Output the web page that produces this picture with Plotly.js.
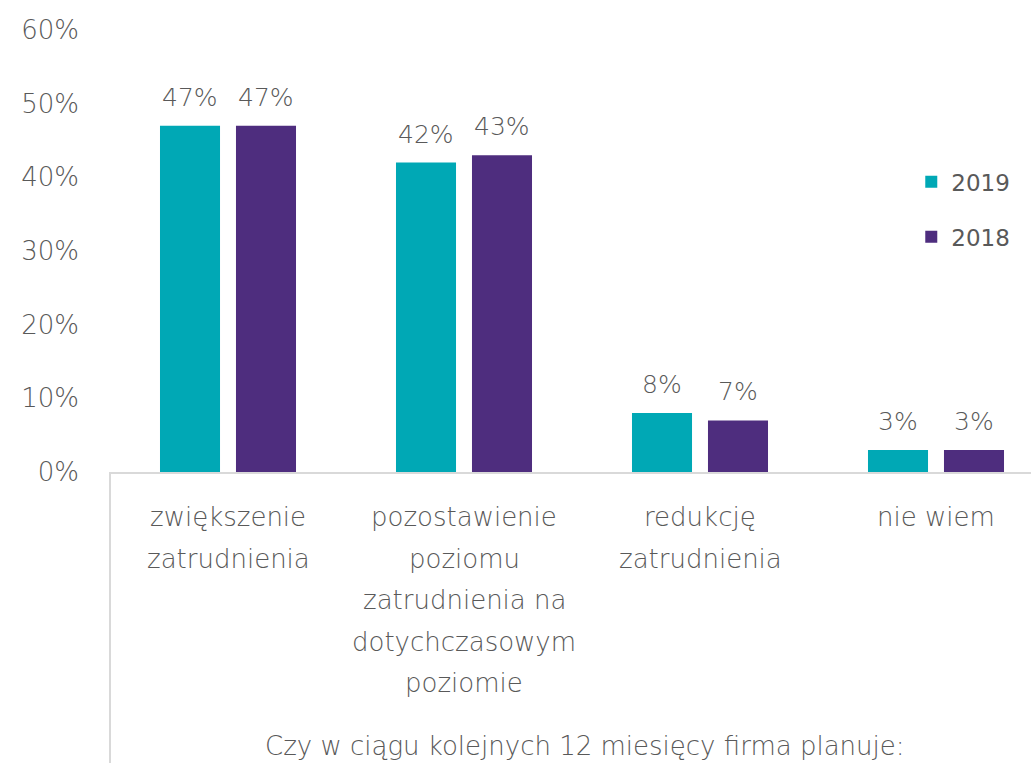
<!DOCTYPE html>
<html>
<head>
<meta charset="utf-8">
<script src="https://cdn.plot.ly/plotly-3.0.1.min.js"></script>
<style>
  html,body{margin:0;padding:0;background:#fff;}
  #chart{width:1031px;height:763px;}
</style>
</head>
<body>
<div id="chart"></div>
<script>
// Plan zatrudnienia 2019 vs 2018
const categories = ['zwiększenie zatrudnienia', 'pozostawienie poziomu zatrudnienia na dotychczasowym poziomie', 'redukcję zatrudnienia', 'nie wiem'];
const categoryLines = [
  ['zwiększenie', 'zatrudnienia'],
  ['pozostawienie', 'poziomu', 'zatrudnienia na', 'dotychczasowym', 'poziomie'],
  ['redukcję', 'zatrudnienia'],
  ['nie wiem']
];
const values2019 = [47, 42, 8, 3];
const values2018 = [47, 43, 7, 3];
const seriesNames = ['2019', '2018'];
const yTicks = [0, 10, 20, 30, 40, 50, 60];
const axisTitle = 'Czy w ciągu kolejnych 12 miesięcy firma planuje:';

(function(){
  const FONT = '"DejaVu Sans", sans-serif';
  const GRAY = '#595959';
  const TEAL = '#00A8B5';
  const PURPLE = '#4E2D7E';
  const W = 200;

  const H = 763, T = 30, B = 291, L = 110;
  const plotH = H - T - B;
  const pxToPaperY = py => (H - B - py) / plotH;

  const xIdx = categories.map((_, i) => i);

  const traces = [
    { type:'bar', name:seriesNames[0], x:xIdx, y:values2019, marker:{color:TEAL}, legendgroup:'a', hoverinfo:'skip' },
    { type:'bar', name:seriesNames[1], x:xIdx, y:values2018, marker:{color:PURPLE}, legendgroup:'b', hoverinfo:'skip' }
  ];

  const annotations = [];
  // value labels above bars
  [values2019, values2018].forEach((vals, s) => {
    vals.forEach((v, i) => {
      annotations.push({ x:i, y:v, xref:'x', yref:'y', text:v + '%', showarrow:false,
        xanchor:'center', yanchor:'bottom', xshift: s === 0 ? -38 : 38, yshift:12,
        font:{family:FONT, size:25, weight:W, color:GRAY} });
    });
  });
  // category labels, one annotation per line
  categoryLines.forEach((lines, i) => {
    lines.forEach((ln, j) => {
      annotations.push({ x:i, y:pxToPaperY(517 + j*41.5), xref:'x', yref:'paper', text:ln, showarrow:false,
        xanchor:'center', yanchor:'middle', font:{family:FONT, size:26, weight:W, color:GRAY} });
    });
  });
  annotations.push({ x:(585 - L) / (1031 - L), y:pxToPaperY(746), xref:'paper', yref:'paper', text:axisTitle,
    showarrow:false, xanchor:'center', yanchor:'middle', font:{family:FONT, size:26, weight:W, color:GRAY} });

  const layout = {
    width:1031, height:763,
    margin:{l:L, r:0, t:T, b:B},
    paper_bgcolor:'#fff', plot_bgcolor:'#fff',
    barmode:'group', bargap:0.356, bargroupgap:0.21,
    showlegend:true,
    legend:{ x:0.87, y:0.705, xanchor:'left', yanchor:'top', tracegroupgap:22,
      font:{family:FONT, size:23, color:GRAY}, bgcolor:'rgba(0,0,0,0)', itemwidth:30 },
    xaxis:{ range:[-0.5, -0.5 + (1031 - L) / 236], showticklabels:false, ticks:'', showgrid:false,
      zeroline:false, showline:true, linecolor:'#d9d9d9', linewidth:2, fixedrange:true },
    yaxis:{ range:[0, 60], tickvals:yTicks, ticktext:yTicks.map(v => v + '%'), showgrid:false,
      zeroline:false, showline:false, ticks:'', ticklabelstandoff:30,
      tickfont:{family:FONT, size:26, weight:W, color:GRAY}, fixedrange:true },
    shapes:[{ type:'line', xref:'paper', yref:'paper', x0:0, x1:0, y0:0, y1:-B/plotH,
      line:{color:'#d9d9d9', width:2} }],
    annotations
  };

  Plotly.newPlot('chart', traces, layout, {displayModeBar:false, staticPlot:true});
})();
</script>
</body>
</html>
